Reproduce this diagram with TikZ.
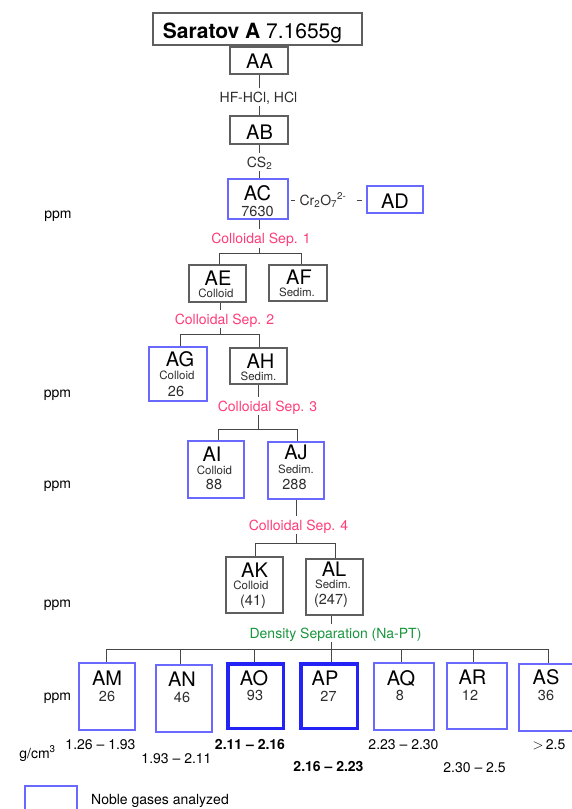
\documentclass[tikz,border=0pt]{standalone}
\usepackage{fontspec}
\setmainfont{TeX Gyre Heros}
\definecolor{lgray}{RGB}{70,70,70}
\definecolor{bgray}{RGB}{95,95,95}
\definecolor{nblue}{RGB}{105,105,255}
\definecolor{tblue}{RGB}{35,35,245}
\definecolor{sepred}{RGB}{255,60,120}
\definecolor{sepgreen}{RGB}{25,150,60}
\definecolor{txtgray}{RGB}{45,45,45}
\begin{document}
\begin{tikzpicture}[x=1pt,y=-1pt,
  conn/.style={draw=lgray,line width=1pt},
  gbox/.style={draw=bgray,line width=1.1pt,rectangle,inner sep=0pt},
  nbox/.style={draw=nblue,line width=1.1pt,rectangle,inner sep=0pt},
  tbox/.style={draw=tblue,line width=3.5pt,rectangle,inner sep=0pt},
  big/.style={font=\fontsize{20}{22}\selectfont,anchor=base,inner sep=0pt},
  mid/.style={font=\fontsize{14}{16}\selectfont,anchor=base,inner sep=0pt},
  num/.style={font=\fontsize{14.5}{16}\selectfont,anchor=base,inner sep=0pt,text=txtgray},
  sml/.style={font=\fontsize{11.5}{13}\selectfont,anchor=base,inner sep=0pt,text=txtgray},
  seplbl/.style={font=\fontsize{14}{16}\selectfont,anchor=base,inner xsep=0pt,inner ysep=4pt,text height=10pt,text depth=0pt},
]
\useasboundingbox (0,0) rectangle (571,809);

% ---------- boxes ----------
\node[gbox,minimum width=209pt,minimum height=32pt] (T) at (257.5,29) {};
\node[gbox,minimum width=58pt,minimum height=27pt] (AA) at (259,60.5) {};
\node[gbox,minimum width=58pt,minimum height=28pt] (AB) at (259,130) {};
\node[nbox,minimum width=60pt,minimum height=40pt] (AC) at (258,199) {};
\node[nbox,minimum width=56pt,minimum height=27pt] (AD) at (395,199.5) {};
\node[gbox,minimum width=57pt,minimum height=37pt] (AE) at (217.5,283.5) {};
\node[gbox,minimum width=58pt,minimum height=36pt] (AF) at (298,283) {};
\node[nbox,minimum width=58pt,minimum height=54pt] (AG) at (178,374) {};
\node[gbox,minimum width=57pt,minimum height=36pt] (AH) at (258.5,366) {};
\node[nbox,minimum width=56pt,minimum height=57pt] (AI) at (216,469.5) {};
\node[nbox,minimum width=56pt,minimum height=57pt] (AJ) at (296,470.5) {};
\node[gbox,minimum width=57pt,minimum height=56pt] (AK) at (254.5,585) {};
\node[gbox,minimum width=57pt,minimum height=56pt] (AL) at (334.5,587) {};
\node[nbox,minimum width=56pt,minimum height=67pt] (AM) at (107,696.5) {};
\node[nbox,minimum width=56pt,minimum height=67pt] (AN) at (184,698.5) {};
\node[tbox,minimum width=55.5pt,minimum height=64.5pt] (AO) at (255.5,696) {};
\node[tbox,minimum width=56.5pt,minimum height=64.5pt] (AP) at (329,696) {};
\node[nbox,minimum width=60pt,minimum height=67pt] (AQ) at (404,696.5) {};
\node[nbox,minimum width=60pt,minimum height=66pt] (AR) at (477,696) {};
\node[nbox,minimum width=58pt,minimum height=67pt] (AS) at (548,697.5) {};
\node[nbox,minimum width=52pt,minimum height=28pt] (LG) at (51,800) {};

% ---------- box texts ----------
\node[font=\fontsize{21}{24}\selectfont,anchor=base,inner sep=0pt] (tT) at (252.5,38) {\textbf{Saratov A} 7.1655g};
\node[big] (tAA) at (259.5,68) {AA};
\node[big] (tAB) at (259.5,139) {AB};
\node[big] (tAC) at (257.5,200) {AC};
\node[num] (nAC) at (257.5,216) {7630};
\node[big] (tAD) at (395,208) {AD};
\node[big] (tAE) at (218,285) {AE};
\node[sml] (cAE) at (216,297.5) {Colloid};
\node[big] (tAF) at (299,284) {AF};
\node[sml] (cAF) at (297,296.5) {Sedim.};
\node[big] (tAG) at (180,366) {AG};
\node[sml] (cAG) at (177,379) {Colloid};
\node[num] (nAG) at (176,396) {26};
\node[big] (tAH) at (260.5,368) {AH};
\node[sml] (cAH) at (258.5,380.5) {Sedim.};
\node[big] (tAI) at (212,461) {AI};
\node[sml] (cAI) at (214.5,474) {Colloid};
\node[num] (nAI) at (214,489) {88};
\node[big] (tAJ) at (296,459) {AJ};
\node[sml] (cAJ) at (296,473) {Sedim.};
\node[num] (nAJ) at (294.5,489) {288};
\node[big] (tAK) at (254.5,577) {AK};
\node[sml] (cAK) at (251,589) {Colloid};
\node[num] (nAK) at (253,605) {(41)};
\node[big] (tAL) at (334,576) {AL};
\node[sml] (cAL) at (333,588) {Sedim.};
\node[num] (nAL) at (331,604) {(247)};
\node[big] (tAM) at (107,685) {AM};
\node[num] (nAM) at (107,701) {26};
\node[big] (tAN) at (182,686) {AN};
\node[num] (nAN) at (182,702) {46};
\node[big] (tAO) at (254,685.5) {AO};
\node[num] (nAO) at (255,700) {93};
\node[big] (tAP) at (325,685) {AP};
\node[num] (nAP) at (328.5,701) {27};
\node[big] (tAQ) at (401,685) {AQ};
\node[num] (nAQ) at (400,700) {8};
\node[big] (tAR) at (472.5,684) {AR};
\node[num] (nAR) at (470,700) {12};
\node[big] (tAS) at (546,684) {AS};
\node[num] (nAS) at (546,700) {36};

% ---------- step labels ----------
\node[seplbl,text=txtgray] (h1) at (258.5,102) {HF-HCl, HCl};
\node[seplbl,text=txtgray] (h2) at (259.5,167) {CS\textsubscript{2}};
\node[seplbl,text=txtgray,inner xsep=4pt] (cr) at (323,205) {Cr\textsubscript{2}O\textsubscript{7}\textsuperscript{2-}};
\node[seplbl,text=sepred] (s1) at (261,243.5) {Colloidal Sep. 1};
\node[seplbl,text=sepred] (s2) at (224.5,324) {Colloidal Sep. 2};
\node[seplbl,text=sepred] (s3) at (267.5,411) {Colloidal Sep. 3};
\node[seplbl,text=sepred] (s4) at (298.5,530) {Colloidal Sep. 4};
\node[seplbl,text=sepgreen] (s5) at (335.5,638) {Density Separation (Na-PT)};

% ---------- side labels ----------
\node[mid] (p1) at (58,218) {ppm};
\node[mid] (p2) at (57.5,397) {ppm};
\node[mid] (p3) at (57.5,488) {ppm};
\node[mid] (p4) at (57.5,607) {ppm};
\node[mid] (p5) at (57.5,700) {ppm};
\node[mid] (gc) at (37.5,758) {g/cm\textsuperscript{3}};
\node[mid] (r1) at (100.5,749) {1.26 -- 1.93};
\node[mid] (r2) at (176.5,763) {1.93 -- 2.11};
\node[mid] (r3) at (250,749) {\textbf{2.11 -- 2.16}};
\node[mid] (r4) at (328.5,771) {\textbf{2.16 -- 2.23}};
\node[mid] (r5) at (403.5,749) {2.23 -- 2.30};
\node[mid] (r6) at (474.5,772) {2.30 -- 2.5};
\node[mid] (r7) at (549,749) {$>$\,2.5};
\node[mid,anchor=base west] (lg) at (91,804) {Noble gases analyzed};

% ---------- junctions ----------
\coordinate (j0) at (259,0);
\coordinate (j1) at (259,253);
\coordinate (d1l) at (219,253);
\coordinate (d1r) at (301,253);
\coordinate (j2) at (220,334);
\coordinate (d2l) at (180,334);
\coordinate (d2r) at (259,334);
\coordinate (j3) at (258,429);
\coordinate (d3l) at (218,429);
\coordinate (d3r) at (297,429);
\coordinate (j4) at (296,543);
\coordinate (d4l) at (255,543);
\coordinate (d4r) at (335,543);
\coordinate (j5) at (331,649);
\coordinate (b1) at (106,649);
\coordinate (b2) at (180,649);
\coordinate (b3) at (254,649);
\coordinate (b4) at (331,649);
\coordinate (b5) at (401,649);
\coordinate (b6) at (473,649);
\coordinate (b7) at (548,649);

% ---------- connectors ----------
\draw[conn] (AA.south -| j0) -- (h1.north -| j0);
\draw[conn] (h1.south -| j0) -- (AB.north -| j0);
\draw[conn] (AB.south -| j0) -- (h2.north -| j0);
\draw[conn] (h2.south -| j0) -- (AC.north -| j0);
\draw[conn,shorten <=2pt] (cr.west -| AC.east) -- (cr.west);
\draw[conn,shorten <=6pt,shorten >=4pt] (cr.east) -- (cr.east -| AD.west);
\draw[conn] (AC.south -| j1) -- (s1.north -| j1);
\draw[conn] (s1.south -| j1) -- (j1);
\draw[conn] (AE.north -| d1l) -- (d1l) -- (d1r) -- (AF.north -| d1r);
\draw[conn] (AE.south -| j2) -- (s2.north -| j2);
\draw[conn] (s2.south -| j2) -- (j2);
\draw[conn] (AG.north -| d2l) -- (d2l) -- (d2r) -- (AH.north -| d2r);
\draw[conn] (AH.south -| j3) -- (s3.north -| j3);
\draw[conn] (s3.south -| j3) -- (j3);
\draw[conn] (AI.north -| d3l) -- (d3l) -- (d3r) -- (AJ.north -| d3r);
\draw[conn] (AJ.south -| j4) -- (s4.north -| j4);
\draw[conn] (s4.south -| j4) -- (j4);
\draw[conn] (AK.north -| d4l) -- (d4l) -- (d4r) -- (AL.north -| d4r);
\draw[conn] (AL.south -| j5) -- (s5.north -| j5);
\draw[conn] (s5.south -| j5) -- (j5);
\draw[conn] (b1) -- (b7);
\draw[conn] (b1) -- (AM.north -| b1);
\draw[conn] (b2) -- (AN.north -| b2);
\draw[conn] (b3) -- (AO.north -| b3);
\draw[conn] (b4) -- (AP.north -| b4);
\draw[conn] (b5) -- (AQ.north -| b5);
\draw[conn] (b6) -- (AR.north -| b6);
\draw[conn] (b7) -- (AS.north -| b7);
\end{tikzpicture}
\end{document}
